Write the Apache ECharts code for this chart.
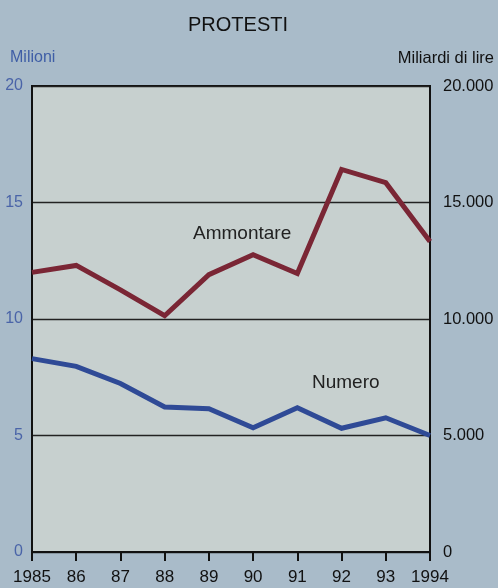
<!DOCTYPE html>
<html>
<head>
<meta charset="utf-8">
<script src="https://cdn.jsdelivr.net/npm/echarts@6/dist/echarts.min.js"></script>
<style>
  html, body { margin: 0; padding: 0; background: #a9bbc9; }
  #chart { width: 498px; height: 588px; }
</style>
</head>
<body>
<div id="chart"></div>
<script>
// Protesti: numero (milioni) e ammontare (miliardi di lire), 1985-1994
const years = ['1985', '86', '87', '88', '89', '90', '91', '92', '93', '1994'];
const numero = [8.3, 7.97, 7.23, 6.22, 6.15, 5.33, 6.19, 5.31, 5.76, 5.0];
const ammontare = [12000, 12300, 11250, 10140, 11900, 12760, 11950, 16420, 15850, 13330];
const leftTicks = [0, 5, 10, 15, 20];
const rightTicks = [0, 5000, 10000, 15000, 20000];

const FONT = 'Liberation Sans, Arial, sans-serif';
const chart = echarts.init(document.getElementById('chart'), null, { renderer: 'canvas' });

chart.setOption({
  backgroundColor: '#a9bbc9',
  animation: false,
  title: {
    text: 'PROTESTI',
    left: 233, top: 10, textAlign: 'center',
    textStyle: { fontFamily: FONT, fontSize: 20, fontWeight: 'normal', color: '#111' }
  },
  grid: {
    left: 32, right: 68, top: 86, bottom: 36,
    show: true, backgroundColor: '#c7d0cf', borderColor: '#111', borderWidth: 2
  },
  xAxis: {
    type: 'category', data: years, boundaryGap: false,
    axisLine: { lineStyle: { color: '#111', width: 2 } },
    axisTick: { length: 9, interval: 0, lineStyle: { color: '#111', width: 2 } },
    axisLabel: {
      interval: 0, hideOverlap: false, margin: 17,
      fontFamily: FONT, fontSize: 17, color: '#111'
    }
  },
  yAxis: [
    {
      type: 'value', min: leftTicks[0], max: leftTicks[4], interval: 5,
      axisLine: { show: true, lineStyle: { color: '#111', width: 2 } },
      axisTick: { show: false },
      splitLine: { lineStyle: { color: '#222', width: 1.3 } },
      axisLabel: { margin: 9, fontFamily: FONT, fontSize: 16, color: '#4a64a8' }
    },
    {
      type: 'value', min: rightTicks[0], max: rightTicks[4], interval: 5000,
      position: 'right',
      axisLine: { show: true, lineStyle: { color: '#111', width: 2 } },
      axisTick: { show: false },
      splitLine: { show: false },
      axisLabel: {
        margin: 13, fontFamily: FONT, fontSize: 16.5, color: '#111',
        formatter: v => v === 0 ? '0' : String(v).replace(/\B(?=(\d{3})+(?!\d))/g, '.')
      }
    }
  ],
  graphic: [
    { type: 'text', left: 10, top: 50,
      style: { text: 'Milioni', font: '16px ' + FONT, fill: '#3f5ea6' } },
    { type: 'text', right: 4, top: 50,
      style: { text: 'Miliardi di lire', font: '16.5px ' + FONT, fill: '#111' } },
    { type: 'text', left: 193, top: 224,
      style: { text: 'Ammontare', font: '19px ' + FONT, fill: '#222' } },
    { type: 'text', left: 312, top: 373,
      style: { text: 'Numero', font: '19px ' + FONT, fill: '#222' } }
  ],
  series: [
    {
      name: 'Ammontare', type: 'line', yAxisIndex: 1, data: ammontare,
      symbol: 'none', lineStyle: { color: '#7a2635', width: 5, join: 'miter' }
    },
    {
      name: 'Numero', type: 'line', yAxisIndex: 0, data: numero,
      symbol: 'none', lineStyle: { color: '#2f4a96', width: 5, join: 'miter' }
    }
  ]
});
</script>
</body>
</html>
